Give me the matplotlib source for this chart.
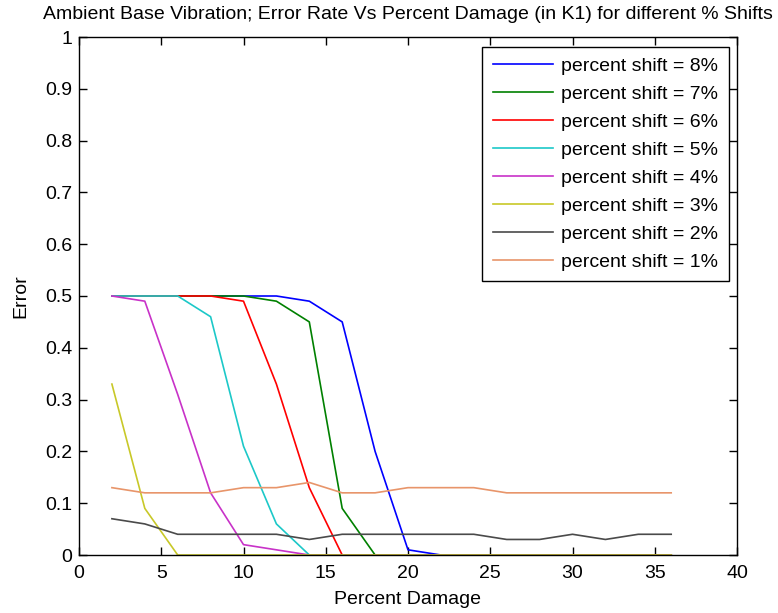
import matplotlib
matplotlib.use("Agg")
import matplotlib.pyplot as plt

x = [2, 4, 6, 8, 10, 12, 14, 16, 18, 20, 22, 24, 26, 28, 30, 32, 34, 36]

shift8 = [0.50, 0.50, 0.50, 0.50, 0.50, 0.50, 0.49, 0.45, 0.20, 0.01, 0, 0, 0, 0, 0, 0, 0, 0]
shift7 = [0.50, 0.50, 0.50, 0.50, 0.50, 0.49, 0.45, 0.09, 0, 0, 0, 0, 0, 0, 0, 0, 0, 0]
shift6 = [0.50, 0.50, 0.50, 0.50, 0.49, 0.33, 0.13, 0, 0, 0, 0, 0, 0, 0, 0, 0, 0, 0]
shift5 = [0.50, 0.50, 0.50, 0.46, 0.21, 0.06, 0, 0, 0, 0, 0, 0, 0, 0, 0, 0, 0, 0]
shift4 = [0.50, 0.49, 0.31, 0.12, 0.02, 0.01, 0, 0, 0, 0, 0, 0, 0, 0, 0, 0, 0, 0]
shift3 = [0.33, 0.09, 0, 0, 0, 0, 0, 0, 0, 0, 0, 0, 0, 0, 0, 0, 0, 0]
shift2 = [0.07, 0.06, 0.04, 0.04, 0.04, 0.04, 0.03, 0.04, 0.04, 0.04, 0.04, 0.04, 0.03, 0.03, 0.04, 0.03, 0.04, 0.04]
shift1 = [0.13, 0.12, 0.12, 0.12, 0.13, 0.13, 0.14, 0.12, 0.12, 0.13, 0.13, 0.13, 0.12, 0.12, 0.12, 0.12, 0.12, 0.12]

labels = ["percent shift = 8%", "percent shift = 7%", "percent shift = 6%",
          "percent shift = 5%", "percent shift = 4%", "percent shift = 3%",
          "percent shift = 2%", "percent shift = 1%"]
series = [shift8, shift7, shift6, shift5, shift4, shift3, shift2, shift1]
colors = ["#0000FF", "#008000", "#FF0000", "#1CC8C8", "#C832C8", "#C8C828",
          "#4A4A4A", "#E8956A"]

xticks = [0, 5, 10, 15, 20, 25, 30, 35, 40]
yticks = [0, 0.1, 0.2, 0.3, 0.4, 0.5, 0.6, 0.7, 0.8, 0.9, 1]
ytick_labels = ["0", "0.1", "0.2", "0.3", "0.4", "0.5", "0.6", "0.7", "0.8", "0.9", "1"]

plt.rcParams['font.family'] = ['Liberation Sans', 'DejaVu Sans']

fig = plt.figure(figsize=(7.78, 6.13), dpi=100)
ax = fig.add_axes([79/778, 58/613, (737-79)/778, (555-37)/613])

for ys, c, lab in zip(series, colors, labels):
    ax.plot(x, ys, color=c, lw=1.2, label=lab)

ax.set_xlim(0, 40)
ax.set_ylim(0, 1)
ax.set_xticks(xticks)
ax.set_yticks(yticks)
ax.set_yticklabels(ytick_labels)
ax.tick_params(direction='in', length=6, width=1, top=True, right=True,
               labelsize=14)
ax.tick_params(axis='x', pad=7)
ax.tick_params(axis='y', pad=5)
for sp in ax.spines.values():
    sp.set_linewidth(1)
    sp.set_color('black')

ax.set_title("Ambient Base Vibration; Error Rate Vs Percent Damage (in K1) for different % Shifts",
             fontsize=14, pad=13)
ax.set_xlabel("Percent Damage", fontsize=14, labelpad=7)
ax.set_ylabel("Error", fontsize=14, labelpad=11)

leg = ax.legend(loc='upper right',
                bbox_to_anchor=((729-79)/(737-79), 1 - (47-37)/(555-37)),
                borderaxespad=0, fontsize=14, frameon=True, fancybox=False,
                edgecolor='black', framealpha=1, handlelength=3.1,
                handletextpad=0.4, labelspacing=0.53, borderpad=0.55)
leg.get_frame().set_linewidth(1)

fig.savefig("out.png", dpi=100)
